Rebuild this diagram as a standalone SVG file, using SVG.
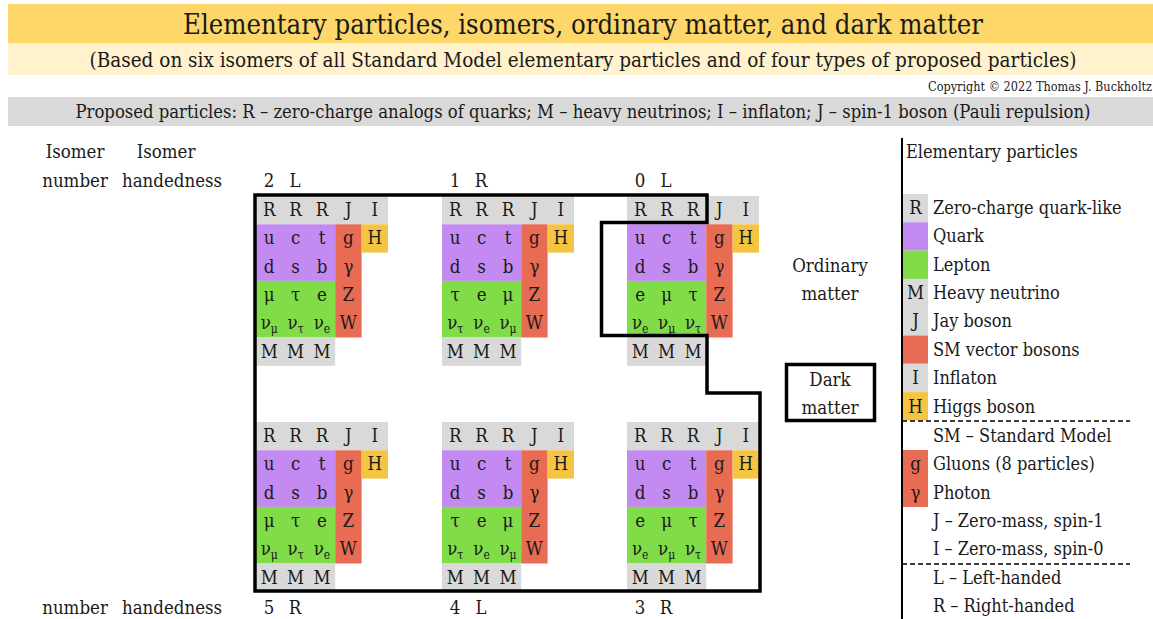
<svg xmlns="http://www.w3.org/2000/svg" xmlns:xlink="http://www.w3.org/1999/xlink" width="1153" height="619" viewBox="0 0 1153 619">
<style>
text{font-family:"DejaVu Serif Condensed","DejaVu Serif","Liberation Serif",serif;fill:#1a1a1a}
.t{font-size:18px}
.c{font-size:18.5px;text-anchor:middle}
.m{text-anchor:middle}
.sub{font-size:12px}
.gray{fill:#d9d9d9}
.pur{fill:#c38af1}
.grn{fill:#80dc47}
.red{fill:#e86b53}
.yel{fill:#f4c543}
.ol{fill:none;stroke:#000;stroke-width:3.5;stroke-linejoin:miter}
.dash{stroke:#000;stroke-width:1.5;stroke-dasharray:5 3}
</style>
<defs>
<g id="cells">
<rect class="gray" x="0" y="0" width="132" height="28.3"/>
<rect class="pur" x="0" y="28.3" width="79.2" height="56.6"/>
<rect class="grn" x="0" y="84.9" width="79.2" height="56.6"/>
<rect class="red" x="79.2" y="28.3" width="26.4" height="113.2"/>
<rect class="yel" x="105.6" y="28.3" width="26.4" height="28.3"/>
<rect class="gray" x="0" y="141.5" width="79.2" height="28.3"/>
<text class="c" x="13.2" y="20">R</text><text class="c" x="39.6" y="20">R</text><text class="c" x="66" y="20">R</text><text class="c" x="92.4" y="20">J</text><text class="c" x="118.8" y="20">I</text>
<text class="c" x="13.2" y="48.3">u</text><text class="c" x="39.6" y="48.3">c</text><text class="c" x="66" y="48.3">t</text><text class="c" x="92.4" y="48.3">g</text><text class="c" x="118.8" y="48.3">H</text>
<text class="c" x="13.2" y="76.6">d</text><text class="c" x="39.6" y="76.6">s</text><text class="c" x="66" y="76.6">b</text><text class="c" x="92.4" y="76.6">γ</text>
<text class="c" x="92.4" y="104.9">Z</text>
<text class="c" x="92.4" y="133.2">W</text>
<text class="c" x="13.2" y="161.5">M</text><text class="c" x="39.6" y="161.5">M</text><text class="c" x="66" y="161.5">M</text>
</g>
</defs>
<rect width="1153" height="619" fill="#fff"/>
<g id="header">
<rect x="8" y="4" width="1145" height="39" fill="#fed76a"/>
<rect x="8" y="43" width="1145" height="32" fill="#fff2cc"/>
<rect x="8" y="97" width="1145" height="29" fill="#d9d9d9"/>
<text x="583" y="34" class="m" font-size="28" textLength="800" lengthAdjust="spacingAndGlyphs">Elementary particles, isomers, ordinary matter, and dark matter</text>
<text x="583" y="67" class="m" font-size="21" textLength="987" lengthAdjust="spacingAndGlyphs">(Based on six isomers of all Standard Model elementary particles and of four types of proposed particles)</text>
<text x="1152" y="91" font-size="12.5" text-anchor="end" textLength="224" lengthAdjust="spacingAndGlyphs">Copyright © 2022 Thomas J. Buckholtz</text>
<text x="583" y="118" class="m" font-size="18" textLength="1015" lengthAdjust="spacingAndGlyphs">Proposed particles: R – zero-charge analogs of quarks; M – heavy neutrinos; I – inflaton; J – spin-1 boson (Pauli repulsion)</text>
</g>
<g id="row-labels">
<text class="c" x="75" y="158">Isomer</text>
<text class="c" x="166" y="158">Isomer</text>
<text class="c" x="75" y="187">number</text>
<text class="c" x="172" y="187">handedness</text>
<text class="c" x="75" y="614">number</text>
<text class="c" x="172" y="614">handedness</text>
</g>
<g id="isomer-2L">
<text class="c" x="269" y="187">2</text><text class="c" x="295" y="187">L</text>
<use xlink:href="#cells" x="256" y="196"/>
<text class="c" x="269.2" y="301">μ</text><text class="c" x="295.6" y="301">τ</text><text class="c" x="322" y="301">e</text>
<text class="c" x="269.2" y="329">ν<tspan class="sub" dy="4">μ</tspan></text><text class="c" x="295.6" y="329">ν<tspan class="sub" dy="4">τ</tspan></text><text class="c" x="322" y="329">ν<tspan class="sub" dy="4">e</tspan></text>
</g>
<g id="isomer-1R">
<text class="c" x="455" y="187">1</text><text class="c" x="481" y="187">R</text>
<use xlink:href="#cells" x="442" y="196"/>
<text class="c" x="455.2" y="301">τ</text><text class="c" x="481.6" y="301">e</text><text class="c" x="508" y="301">μ</text>
<text class="c" x="455.2" y="329">ν<tspan class="sub" dy="4">τ</tspan></text><text class="c" x="481.6" y="329">ν<tspan class="sub" dy="4">e</tspan></text><text class="c" x="508" y="329">ν<tspan class="sub" dy="4">μ</tspan></text>
</g>
<g id="isomer-0L">
<text class="c" x="640" y="187">0</text><text class="c" x="666" y="187">L</text>
<use xlink:href="#cells" x="627" y="196"/>
<text class="c" x="640.2" y="301">e</text><text class="c" x="666.6" y="301">μ</text><text class="c" x="693" y="301">τ</text>
<text class="c" x="640.2" y="329">ν<tspan class="sub" dy="4">e</tspan></text><text class="c" x="666.6" y="329">ν<tspan class="sub" dy="4">μ</tspan></text><text class="c" x="693" y="329">ν<tspan class="sub" dy="4">τ</tspan></text>
</g>
<g id="isomer-5R">
<text class="c" x="269" y="614">5</text><text class="c" x="295" y="614">R</text>
<use xlink:href="#cells" x="256" y="422"/>
<text class="c" x="269.2" y="527">μ</text><text class="c" x="295.6" y="527">τ</text><text class="c" x="322" y="527">e</text>
<text class="c" x="269.2" y="555">ν<tspan class="sub" dy="4">μ</tspan></text><text class="c" x="295.6" y="555">ν<tspan class="sub" dy="4">τ</tspan></text><text class="c" x="322" y="555">ν<tspan class="sub" dy="4">e</tspan></text>
</g>
<g id="isomer-4L">
<text class="c" x="455" y="614">4</text><text class="c" x="481" y="614">L</text>
<use xlink:href="#cells" x="442" y="422"/>
<text class="c" x="455.2" y="527">τ</text><text class="c" x="481.6" y="527">e</text><text class="c" x="508" y="527">μ</text>
<text class="c" x="455.2" y="555">ν<tspan class="sub" dy="4">τ</tspan></text><text class="c" x="481.6" y="555">ν<tspan class="sub" dy="4">e</tspan></text><text class="c" x="508" y="555">ν<tspan class="sub" dy="4">μ</tspan></text>
</g>
<g id="isomer-3R">
<text class="c" x="640" y="614">3</text><text class="c" x="666" y="614">R</text>
<use xlink:href="#cells" x="627" y="422"/>
<text class="c" x="640.2" y="527">e</text><text class="c" x="666.6" y="527">μ</text><text class="c" x="693" y="527">τ</text>
<text class="c" x="640.2" y="555">ν<tspan class="sub" dy="4">e</tspan></text><text class="c" x="666.6" y="555">ν<tspan class="sub" dy="4">μ</tspan></text><text class="c" x="693" y="555">ν<tspan class="sub" dy="4">τ</tspan></text>
</g>
<g id="connectors">
<path class="ol" d="M255,195 H707 V222.5 H601.5 V335.5 H707 V393 H760 V591 H255 Z"/>
</g>
<g id="ordinary-matter">
<text class="c" x="830" y="272">Ordinary</text>
<text class="c" x="830" y="300">matter</text>
</g>
<g id="dark-matter">
<rect class="ol" x="786.5" y="364.5" width="88" height="56"/>
<text class="c" x="830" y="386">Dark</text>
<text class="c" x="830" y="414">matter</text>
</g>
<g id="legend">
<line x1="902" y1="138" x2="902" y2="619" stroke="#000" stroke-width="2"/>
<text class="t" x="906" y="158">Elementary particles</text>
<rect class="gray" x="903" y="194" width="25" height="28.3"/>
<rect class="pur" x="903" y="222.3" width="25" height="28.3"/>
<rect class="grn" x="903" y="250.6" width="25" height="28.3"/>
<rect class="gray" x="903" y="278.9" width="25" height="56.6"/>
<rect class="red" x="903" y="335.5" width="25" height="28.3"/>
<rect class="gray" x="903" y="363.8" width="25" height="28.3"/>
<rect class="yel" x="903" y="392.1" width="25" height="28.3"/>
<rect class="red" x="903" y="450" width="25" height="57"/>
<text class="c" x="915.5" y="214">R</text>
<text class="c" x="915.5" y="299">M</text>
<text class="c" x="915.5" y="327">J</text>
<text class="c" x="915.5" y="384">I</text>
<text class="c" x="915.5" y="413">H</text>
<text class="c" x="915.5" y="470">g</text>
<text class="c" x="915.5" y="499">γ</text>
<text class="t" x="933" y="214">Zero-charge quark-like</text>
<text class="t" x="933" y="242">Quark</text>
<text class="t" x="933" y="271">Lepton</text>
<text class="t" x="933" y="299">Heavy neutrino</text>
<text class="t" x="933" y="327">Jay boson</text>
<text class="t" x="933" y="356">SM vector bosons</text>
<text class="t" x="933" y="384">Inflaton</text>
<text class="t" x="933" y="413">Higgs boson</text>
<line class="dash" x1="902" y1="421" x2="1130" y2="421"/>
<text class="t" x="933" y="442">SM – Standard Model</text>
<text class="t" x="933" y="470">Gluons (8 particles)</text>
<text class="t" x="933" y="499">Photon</text>
<text class="t" x="933" y="527">J – Zero-mass, spin-1</text>
<text class="t" x="933" y="555">I – Zero-mass, spin-0</text>
<line class="dash" x1="902" y1="564" x2="1130" y2="564"/>
<text class="t" x="933" y="584">L – Left-handed</text>
<text class="t" x="933" y="612">R – Right-handed</text>
</g>
</svg>
